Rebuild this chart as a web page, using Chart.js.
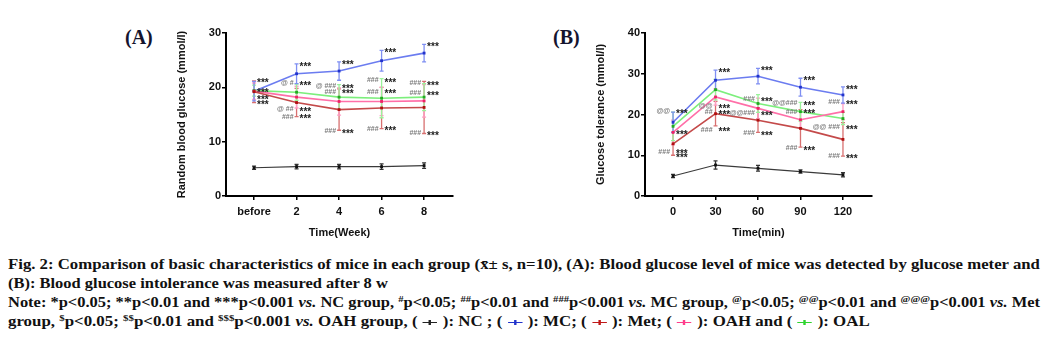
<!DOCTYPE html>
<html>
<head>
<meta charset="utf-8">
<script src="https://cdn.jsdelivr.net/npm/chart.js@4.4.1/dist/chart.umd.min.js"></script>
<style>
  html, body { margin: 0; padding: 0; background: #fff; }
  body { width: 1048px; height: 344px; position: relative; overflow: hidden; }
  .panel { position: absolute; top: 20px; width: 310px; height: 230px; }
  .tag { position: absolute; top: 26px; font: bold 20px "Liberation Serif", serif; color: #14142e; }
  .cap { position: absolute; left: 8px; top: 255px;
    font: bold 14px "Liberation Serif", "Times New Roman", serif; color: #111; }
  .cap div { line-height: 19px; height: 19px; white-space: nowrap; }
  .cap span.ln { display: inline-block; transform-origin: 0 0; }
  .cap sup { font-size: 9px; vertical-align: 5px; line-height: 0; }
  .mk { display: inline-block; position: relative; width: 14px; height: 10px; vertical-align: -1px; }
  .mk::before { content: ''; position: absolute; left: 1px; right: 1px; top: 5px; height: 1px; background: currentColor; }
  .mk::after { content: ''; position: absolute; left: 6px; width: 2px; top: 3px; height: 5px; background: currentColor; }
</style>
</head>
<body>
<div class="tag" style="left:125px">(A)</div>
<div class="tag" style="left:553px">(B)</div>
<div class="panel" style="left:160px"><canvas id="chartA"></canvas></div>
<div class="panel" style="left:578px"><canvas id="chartB"></canvas></div>
<div class="cap" id="cap">
  <div><span class="ln" data-w="1032">Fig. 2: Comparison of basic characteristics of mice in each group (x&#772;± s, n=10), (A): Blood glucose level of mice was detected by glucose meter and</span></div>
  <div><span class="ln" data-w="380">(B): Blood glucose intolerance was measured after 8 w</span></div>
  <div><span class="ln" data-w="1032">Note: *p&lt;0.05; **p&lt;0.01 and ***p&lt;0.001 <i>vs.</i> NC group, <sup>#</sup>p&lt;0.05; <sup>##</sup>p&lt;0.01 and <sup>###</sup>p&lt;0.001 <i>vs.</i> MC group, <sup>@</sup>p&lt;0.05; <sup>@@</sup>p&lt;0.01 and <sup>@@@</sup>p&lt;0.001 <i>vs.</i> Met</span></div>
  <div><span class="ln" data-w="862">group, <sup>$</sup>p&lt;0.05; <sup>$$</sup>p&lt;0.01 and <sup>$$$</sup>p&lt;0.001 <i>vs.</i> OAH group, ( <span class="mk" style="color:#222"></span> ): NC ; ( <span class="mk" style="color:#2233cc"></span> ): MC; ( <span class="mk" style="color:#c01818"></span> ): Met; ( <span class="mk" style="color:#ff3d8b"></span> ): OAH and ( <span class="mk" style="color:#2ed42e"></span> ): OAL</span></div>
</div>
<script>
// Fig. 2 - blood glucose (A) and glucose tolerance (B) of five mouse groups

// ---------- data: panel A ----------
const weekLabels = ['before', '2', '4', '6', '8'];
const ncA = [5.2, 5.4, 5.4, 5.4, 5.6];
const mcA = [19.3, 22.5, 23.0, 24.9, 26.3];
const metA = [19.2, 17.2, 15.9, 16.2, 16.3];
const oahA = [19.3, 18.2, 17.4, 17.4, 17.5];
const oalA = [19.4, 19.1, 18.2, 18.0, 18.2];
const ncA_sd = [0.3, 0.4, 0.4, 0.5, 0.5];
const mcA_sd = [1.8, 1.8, 1.7, 1.9, 1.6];
const metA_sd = [2.0, 2.6, 3.8, 3.8, 4.8];
const oahA_sd = [1.5, 2.0, 2.5, 2.6, 3.0];
const oalA_sd = [1.0, 1.5, 2.3, 3.6, 2.5];

// significance marks: [point index, value level, left text, right text]
const marksA = [
    [0, 21.3, '', '***'], [0, 19.4, '', '***'], [0, 18.1, '', '***'], [0, 17.2, '', '***'],
    [1, 24.3, '', '***'], [1, 20.7, '@ #', '***'], [1, 16.0, '@ ##', '***'], [1, 14.6, '###', '***'],
    [2, 24.6, '', '***'], [2, 20.2, '@ ###', '***'], [2, 19.2, '###', '***'], [2, 12.0, '###', '***'],
    [3, 26.8, '', '***'], [3, 21.3, '###', '***'], [3, 19.2, '###', '***'], [3, 12.4, '###', '***'],
    [4, 27.9, '', '***'], [4, 20.7, '###', '***'], [4, 18.9, '###', '***'], [4, 11.6, '###', '***']
];

// ---------- data: panel B ----------
const minuteLabels = [0, 30, 60, 90, 120];
const ncB = [4.9, 7.6, 6.8, 6.0, 5.2];
const mcB = [18.1, 28.4, 29.4, 26.7, 24.8];
const metB = [12.8, 20.2, 18.6, 16.6, 13.9];
const oahB = [15.6, 24.3, 21.5, 18.7, 20.7];
const oalB = [17.1, 26.1, 22.7, 20.7, 19.0];
const ncB_sd = [0.4, 1.0, 0.7, 0.4, 0.5];
const mcB_sd = [2.5, 2.5, 1.9, 2.2, 2.0];
const metB_sd = [2.8, 3.0, 3.0, 4.6, 4.1];
const oahB_sd = [3.0, 2.0, 2.5, 2.0, 2.0];
const oalB_sd = [3.5, 2.5, 2.2, 2.3, 1.5];

const marksB = [
    [0, 20.9, '@@', '***'], [0, 15.6, '', '***'], [0, 10.9, '###', '***'], [0, 10.0, '', '***'],
    [1, 30.9, '', '***'], [1, 22.0, '@@', '***'], [1, 20.6, '##', '***'], [1, 16.3, '###', '***'],
    [2, 31.3, '', '***'], [2, 23.8, '###', '***'], [2, 20.3, '@@###', '***'], [2, 15.4, '###', '***'],
    [3, 28.9, '', '***'], [3, 22.7, '@@###', '***'], [3, 20.7, '###', '***'], [3, 11.7, '###', '***'],
    [4, 26.8, '', '***'], [4, 23.1, '###', '***'], [4, 16.8, '@@ ###', '***'], [4, 9.8, '###', '***']
];

// group colours: line, marker, error bar (drawing order NC, Met, OAH, OAL, MC)
const groups = [
    { name: 'NC',  line: '#3a3a3a', dot: '#111111', bar: '#333333' },
    { name: 'Met', line: '#c44a4a', dot: '#b01010', bar: '#d87070' },
    { name: 'OAH', line: '#ff6fa8', dot: '#ee2266', bar: '#ff9cc3' },
    { name: 'OAL', line: '#7cef7c', dot: '#22aa22', bar: '#9af29a' },
    { name: 'MC',  line: '#6b7cf0', dot: '#2233cc', bar: '#7f8ff2' }
];

// ---------- plugins ----------
const errorBarPlugin = {
    id: 'errorBars',
    beforeDatasetsDraw: function (chart) {
        const ctx = chart.ctx, ys = chart.scales.y;
        ctx.save();
        chart.data.datasets.forEach(function (ds, di) {
            const meta = chart.getDatasetMeta(di);
            ctx.strokeStyle = ds.barColor;
            ctx.lineWidth = 1.3;
            meta.data.forEach(function (pt, i) {
                const v = ds.data[i].y;
                const hi = ys.getPixelForValue(v + ds.sd[i]);
                const lo = ys.getPixelForValue(v - ds.sd[i]);
                ctx.beginPath();
                ctx.moveTo(pt.x, hi); ctx.lineTo(pt.x, lo);
                ctx.moveTo(pt.x - 2, hi); ctx.lineTo(pt.x + 2, hi);
                ctx.moveTo(pt.x - 2, lo); ctx.lineTo(pt.x + 2, lo);
                ctx.stroke();
            });
        });
        ctx.restore();
    }
};

const marksPlugin = {
    id: 'sigMarks',
    afterDatasetsDraw: function (chart, args, opts) {
        const ctx = chart.ctx, xs = chart.scales.x, ys = chart.scales.y;
        ctx.save();
        ctx.textBaseline = 'middle';
        opts.marks.forEach(function (m) {
            const x = xs.getPixelForValue(opts.xs[m[0]]);
            const y = ys.getPixelForValue(m[1]);
            if (m[2]) {
                ctx.font = 'bold 7px Arial';
                ctx.fillStyle = '#7a7a7a';
                ctx.textAlign = 'right';
                ctx.fillText(m[2], x - 3, y);
            }
            ctx.font = 'bold 10px Arial';
            ctx.fillStyle = '#222';
            ctx.textAlign = 'left';
            ctx.fillText(m[3], x + 3, y + 3);
        });
        ctx.restore();
    }
};

function makeDatasets(xs, series, sds) {
    return groups.map(function (g, gi) {
        return {
            label: g.name,
            data: series[gi].map(function (v, i) { return { x: xs[i], y: v }; }),
            sd: sds[gi],
            barColor: g.bar,
            borderColor: g.line,
            backgroundColor: g.dot,
            borderWidth: g.name === 'NC' ? 1.2 : 1.6,
            pointStyle: 'rect',
            pointRadius: 2,
            pointBorderWidth: 0,
            tension: 0
        };
    });
}

function makeChart(id, cfg) {
    const font = { family: 'Arial, "Liberation Sans"', weight: 'bold' };
    return new Chart(document.getElementById(id), {
        type: 'line',
        data: { datasets: makeDatasets(cfg.xs, cfg.series, cfg.sds) },
        options: {
            responsive: true,
            maintainAspectRatio: false,
            animation: false,
            layout: { padding: { top: 13, right: cfg.padRight, bottom: 0, left: 0 } },
            scales: {
                x: {
                    type: 'linear',
                    min: cfg.xMin, max: cfg.xMax,
                    afterBuildTicks: function (s) {
                        s.ticks = cfg.xs.map(function (v) { return { value: v }; });
                    },
                    afterFit: function (s) { s.height = 54; },
                    ticks: {
                        autoSkip: false, maxRotation: 0, padding: 5, color: '#111',
                        font: Object.assign({ size: 11 }, font),
                        callback: function (v) { return cfg.labels[cfg.xs.indexOf(v)]; }
                    },
                    grid: { drawOnChartArea: false, drawTicks: true, tickLength: 4,
                            color: '#000', lineWidth: 1.5 },
                    border: { display: true, color: '#000', width: 2 },
                    title: { display: true, text: cfg.xTitle, color: '#111',
                             font: Object.assign({ size: 11 }, font),
                             padding: { top: 0, bottom: 10 } }
                },
                y: {
                    min: 0, max: cfg.yMax,
                    ticks: { stepSize: 10, padding: 1, color: '#111',
                             font: Object.assign({ size: 11 }, font) },
                    afterFit: function (s) { s.width = cfg.yWidth; },
                    grid: { drawOnChartArea: false, drawTicks: true, tickLength: 4,
                            color: '#000', lineWidth: 1.5 },
                    border: { display: true, color: '#000', width: 2 },
                    title: { display: true, text: cfg.yTitle, color: '#111',
                             font: Object.assign({ size: 11 }, font),
                             padding: { top: cfg.yTitlePad, bottom: 0 } }
                }
            },
            plugins: {
                legend: { display: false },
                tooltip: { enabled: false },
                sigMarks: { marks: cfg.marks, xs: cfg.xs }
            }
        },
        plugins: [errorBarPlugin, marksPlugin]
    });
}

makeChart('chartA', {
    xs: [0, 1, 2, 3, 4], labels: weekLabels, xMin: -0.66, xMax: 4.68,
    series: [ncA, metA, oahA, oalA, mcA],
    sds: [ncA_sd, metA_sd, oahA_sd, oalA_sd, mcA_sd],
    marks: marksA, yMax: 30, yWidth: 66, yTitlePad: 15, padRight: 17,
    xTitle: 'Time(Week)', yTitle: 'Random blood glucose (mmol/l)'
});

makeChart('chartB', {
    xs: minuteLabels, labels: minuteLabels, xMin: -19.8, xMax: 140.5,
    series: [ncB, metB, oahB, oalB, mcB],
    sds: [ncB_sd, metB_sd, oahB_sd, oalB_sd, mcB_sd],
    marks: marksB, yMax: 40, yWidth: 67, yTitlePad: 16, padRight: 16,
    xTitle: 'Time(min)', yTitle: 'Glucose tolerance (mmol/l)'
});

// ---------- caption: stretch each line to its printed width ----------
document.querySelectorAll('#cap span.ln').forEach(function (ln) {
    const w = ln.getBoundingClientRect().width;
    ln.style.transform = 'scaleX(' + (Number(ln.dataset.w) / w).toFixed(3) + ')';
});
</script>
</body>
</html>
